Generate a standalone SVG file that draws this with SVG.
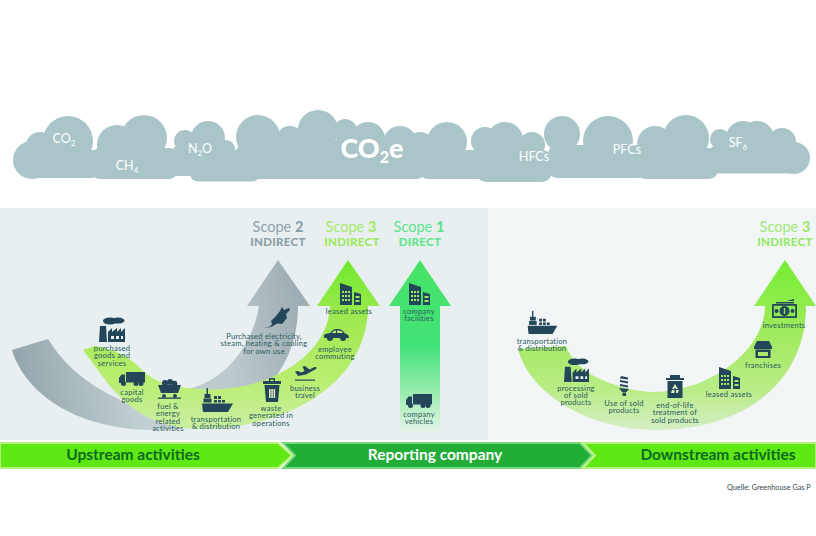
<svg xmlns="http://www.w3.org/2000/svg" width="816" height="536" viewBox="0 0 816 536">
<style>
text{font-family:Lato,"Open Sans","Liberation Sans",sans-serif}
.l{font-size:7.6px;letter-spacing:.22px;fill:#2a5a5e;text-anchor:middle}
.c{fill:#fff;font-size:12.5px;text-anchor:middle}
.s{font-size:14.5px;text-anchor:middle}
.s tspan{font-weight:900}
.d{font-size:11.5px;font-weight:900;text-anchor:middle;letter-spacing:.3px}
.b{font-size:15.5px;font-weight:700;text-anchor:middle}
.i{fill:#23465a}
.cl{fill:#a9c5c7}
</style>
<defs>
<linearGradient id="gGray" gradientUnits="userSpaceOnUse" x1="12" y1="350" x2="300" y2="300">
<stop offset="0" stop-color="#93a5ab"/><stop offset=".4" stop-color="#c3d0d3"/><stop offset=".72" stop-color="#bccacd"/><stop offset="1" stop-color="#9eadb3"/>
</linearGradient>
<linearGradient id="gUp" gradientUnits="userSpaceOnUse" x1="0" y1="260" x2="0" y2="430">
<stop offset="0" stop-color="#6fe92e"/><stop offset=".35" stop-color="#9fe950"/><stop offset=".7" stop-color="#b9ee70"/><stop offset="1" stop-color="#cbeea4"/>
</linearGradient>
<linearGradient id="gOne" gradientUnits="userSpaceOnUse" x1="0" y1="260" x2="0" y2="432">
<stop offset="0" stop-color="#46e364"/><stop offset=".5" stop-color="#43e27a"/><stop offset=".8" stop-color="#a3eeb4"/><stop offset="1" stop-color="#e6f4e8"/>
</linearGradient>
<linearGradient id="gDown" gradientUnits="userSpaceOnUse" x1="0" y1="260" x2="0" y2="430">
<stop offset="0" stop-color="#74ee32"/><stop offset=".45" stop-color="#a2ea60"/><stop offset=".75" stop-color="#b8ec84"/><stop offset="1" stop-color="#d4eec4"/>
</linearGradient>
<symbol id="factory" viewBox="0 0 26 25"><g class="i"><ellipse cx="11" cy="4" rx="7" ry="3.4"/><ellipse cx="19" cy="3.6" rx="6.5" ry="3"/><path d="M1,9H7L8,25H0Z"/><path d="M9,25V15L13,11V15L18,11V15L22,11V15L26,11V25Z"/></g><path d="M12,19h3v3h-3zM17,19h3v3h-3zM22,19h2v3h-2z" fill="#e8eff0"/></symbol>
<symbol id="truck" viewBox="0 0 26 14"><g class="i"><rect x="7" y="0" width="19" height="10.5"/><path d="M0,11V6L2.500,2.500H6V11Z"/><circle cx="4.500" cy="11.500" r="2.500"/><circle cx="17" cy="11.500" r="2.500"/><circle cx="22" cy="11.500" r="2.500"/></g></symbol>
<symbol id="cart" viewBox="0 0 23 20"><g class="i"><circle cx="7" cy="4" r="3"/><circle cx="12" cy="3" r="3"/><circle cx="16.500" cy="4.500" r="2.800"/><path d="M0,6H23L20,14H3Z"/><circle cx="6" cy="17" r="2"/><circle cx="17" cy="17" r="2"/><rect x="0" y="18.500" width="23" height="1.300"/></g></symbol>
<symbol id="ship" viewBox="0 0 31 24"><g class="i"><rect x="4.500" y="0" width="1.500" height="6"/><rect x="2.500" y="6" width="6" height="4"/><rect x="1.500" y="10.500" width="8" height="4"/><path d="M12,8h3v3h-3zM16,8h3v3h-3zM12,12h3v2.500h-3zM16,12h3v2.500h-3zM20,12h3v2.500h-3z"/><path d="M0,15.500H31L26,24H1Z"/></g></symbol>
<symbol id="trash" viewBox="0 0 18 24"><g class="i"><path d="M6,3V0H12V3H18V6H0V3ZM7.500,1.500V3H10.500V1.500Z" fill-rule="evenodd"/><path d="M1.500,7H16.500L15,24H3Z"/></g><path d="M6,11h1.500v9H6zM8.300,11h1.500v9H8.300zM10.600,11h1.500v9h-1.500z" fill="#e6f0c8"/></symbol>
<symbol id="bin" viewBox="0 0 18 23"><g class="i"><path d="M4,3V0H14V3H18V5H0V3Z"/><path d="M1.500,6H16.500V23H1.500Z"/></g><path d="M9,9L12,14H9.800L9,12.500 8,14H6ZM6,15H8.500V18H5ZM10,15H13L11.800,18H10Z" fill="#dcefc8"/></symbol>
<symbol id="plane" viewBox="0 0 22 18"><g class="i"><path d="M0,8.500L3,8 6,9.500 9.500,8 7.500,3.500 10,3 14.500,6.500 19,4.200C21,3.500 22.300,4.600 21,6L11,11.500 3,13Z"/><rect x="0" y="16.500" width="20" height="1.200"/></g></symbol>
<symbol id="car" viewBox="0 0 25 12"><g class="i"><path d="M0,6C1,4.500 4,4.500 6,4L9,1C12,-.5 16,-.5 18.500,1.500L21,4.500C23,5 25,6 25,9H0Z"/><circle cx="6" cy="9" r="3"/><circle cx="19" cy="9" r="3"/></g><path d="M9.500,2.200L7.800,4H12V1.500ZM13,1.400V4H19L17.500,2Z" fill="#c2ec80"/></symbol>
<symbol id="bld" viewBox="0 0 21 22"><path class="i" d="M0,0L12,4V22H0ZM14,9L21,11V22H14Z"/><path d="M2,8h2v2H2zM5,8h2v2H5zM8,8h2v2H8zM2,12h2v2H2zM5,12h2v2H5zM8,12h2v2H8zM2,16h2v2H2zM5,16h2v2H5zM8,16h2v2H8zM15.500,13h4v2h-4zM15.500,17h4v2h-4z" fill="#9fe860"/></symbol>
<symbol id="plug" viewBox="0 0 28 21"><path class="i" d="M0,19C3,21 8,21 10,17L9,14 14,9 18,4 20,0 22,3 27,1 28,3 24,7 25,11 20,17 15,16.500C11,20 5,22 0,19Z"/></symbol>
<symbol id="bulb" viewBox="0 0 10 20"><g class="i"><path d="M2,0L9,1.500V3.500L1,2.500ZM1,4L9,5.500V7.500L1,6ZM1,8L9,9.500V11.500L1,10Z"/><path d="M0,12L10,13 7.500,16H3Z"/><rect x="3.500" y="16.500" width="3.500" height="3.500"/></g></symbol>
<symbol id="store" viewBox="0 0 18 17"><g class="i"><path d="M3,0H15L18,6V8H0V6Z"/><path d="M1.500,8.500H16.500V17H1.500ZM4,11V15H14V11Z" fill-rule="evenodd"/></g></symbol>
<symbol id="money" viewBox="0 0 25 19"><g class="i"><path d="M11,3L22,0V2H15ZM4,3H22V4.500H4Z"/><rect x="0" y="5" width="25" height="14" rx="1"/></g><rect x="1.800" y="6.800" width="21.400" height="10.400" fill="#8fe84e"/><circle cx="12.500" cy="12" r="5" fill="#23465a"/><circle cx="4.500" cy="12" r="2" fill="#23465a"/><circle cx="20.500" cy="12" r="2" fill="#23465a"/><rect x="11.800" y="9" width="1.400" height="6" fill="#8fe84e"/></symbol>
</defs>
<rect width="816" height="536" fill="#fff"/>
<g id="clouds">
<g class="cl">
<circle cx="32" cy="160" r="19"/><circle cx="40" cy="146" r="14"/><circle cx="68" cy="141" r="25"/>
<circle cx="117" cy="145" r="20"/><circle cx="144" cy="138" r="23"/>
<circle cx="185" cy="141" r="11"/><circle cx="208" cy="138" r="17"/><circle cx="226" cy="149" r="9"/>
<circle cx="258" cy="137" r="22"/><circle cx="290" cy="140" r="14"/><circle cx="318" cy="130" r="20"/><circle cx="345" cy="131" r="12"/><circle cx="368" cy="139" r="17"/><circle cx="400" cy="143" r="17"/>
<circle cx="420" cy="146" r="14"/><circle cx="447" cy="142" r="20"/><circle cx="485" cy="141" r="14"/><circle cx="505" cy="140" r="18"/><circle cx="532" cy="145" r="13"/>
<circle cx="562" cy="134" r="18"/><circle cx="608" cy="141" r="25"/><circle cx="655" cy="144" r="18"/><circle cx="686" cy="138" r="23"/>
<circle cx="720" cy="139" r="10"/><circle cx="743" cy="138" r="17"/><circle cx="757" cy="138" r="17"/><circle cx="782" cy="142" r="14"/><circle cx="794" cy="158" r="16"/>
<rect x="28" y="150" width="70" height="28" rx="6"/>
<rect x="92" y="148" width="85" height="31" rx="8"/>
<rect x="172" y="146" width="60" height="30" rx="6"/>
<rect x="190" y="150" width="70" height="31.500" rx="8"/>
<rect x="235" y="146" width="80" height="33" rx="8"/>
<rect x="300" y="140" width="125" height="39" rx="8"/>
<rect x="420" y="150" width="70" height="29" rx="8"/>
<rect x="476" y="150" width="76" height="32" rx="10"/>
<rect x="548" y="145" width="99" height="33" rx="9"/>
<rect x="636" y="148" width="82" height="31" rx="9"/>
<rect x="710" y="146" width="85" height="27.500" rx="5"/>
</g>
<text class="c" x="64" y="143">CO<tspan font-size="8" dy="3">2</tspan></text>
<text class="c" x="127" y="170">CH<tspan font-size="8" dy="3">4</tspan></text>
<text class="c" x="200" y="153">N<tspan font-size="8" dy="3">2</tspan><tspan dy="-3">O</tspan></text>
<text x="372" y="158" fill="#fff" font-size="27" font-weight="900" text-anchor="middle">CO<tspan font-size="16" dy="5">2</tspan><tspan dy="-5">e</tspan></text>
<text class="c" x="534" y="161">HFCs</text>
<text class="c" x="627" y="154">PFCs</text>
<text class="c" x="738" y="147">SF<tspan font-size="8" dy="3">6</tspan></text>
</g>
<rect x="0" y="208" width="488" height="232" fill="#e8eff0"/>
<rect x="488" y="208" width="328" height="232" fill="#f2f5f5"/>
<g id="connectors">
<path id="arrow-scope2" fill="url(#gGray)" d="M12,350C22,385 65,428 150,430C240,430 298,380 298,306H310L278,260L247,306H259C252,350 220,385 182,390L155,414C110,398 72,378 48,339Z"/>
<path id="arrow-scope3-up" fill="url(#gUp)" d="M83,350L95,346C118,350 130,358 140,368C152,380 165,387 200,389C260,394 328,360 330,306H317L348,260L380,306H368C368,385 285,429 200,429C155,429 125,408 103,377Z"/>
<path id="arrow-scope1" fill="url(#gOne)" d="M400,432V306H389L420,260L451,306H440V432Z"/>
<path id="arrow-scope3-down" fill="url(#gDown)" d="M518,349L566,346C572,362 585,372 600,379C620,388 640,392 653,392C710,392 765,350 765,306H754L785,260L816,306H806C806,385 740,430 657,430C590,430 530,395 518,349Z"/>
</g>
<g id="scope2"><text class="s" x="278" y="232" fill="#8ba2aa">Scope <tspan>2</tspan></text><text class="d" x="278" y="246" fill="#8a9fa9">INDIRECT</text></g>
<g id="scope3"><text class="s" x="351" y="232" fill="#a4e96a">Scope <tspan>3</tspan></text><text class="d" x="352" y="246" fill="#9fe860">INDIRECT</text></g>
<g id="scope1"><text class="s" x="419" y="232" fill="#5fe48c">Scope <tspan>1</tspan></text><text class="d" x="420" y="246" fill="#5fe48c">DIRECT</text></g>
<g id="scope3b"><text class="s" x="785" y="232" fill="#9fe97a">Scope <tspan>3</tspan></text><text class="d" x="785" y="246" fill="#94e86a">INDIRECT</text></g>

<g id="n-purchased"><use href="#factory" x="99" y="317" width="26" height="25"/><text class="l" y="351"><tspan x="112">purchased</tspan><tspan x="112" dy="7.400">goods and</tspan><tspan x="112" dy="7.400">services</tspan></text></g>
<g id="n-capital"><use href="#truck" x="119" y="372" width="26" height="14"/><text class="l" y="394.500"><tspan x="132">capital</tspan><tspan x="132" dy="7.400">goods</tspan></text></g>
<g id="n-fuel"><use href="#cart" x="158" y="379" width="23" height="20"/><text class="l" y="409"><tspan x="168">fuel &amp;</tspan><tspan x="168" dy="7.400">energy</tspan><tspan x="168" dy="7.300">related</tspan><tspan x="168" dy="7.300">activities</tspan></text></g>
<g id="n-transport"><use href="#ship" x="202" y="388" width="31" height="24"/><text class="l" y="421.500"><tspan x="216">transportation</tspan><tspan x="216" dy="7.100">&amp; distribution</tspan></text></g>
<g id="n-waste"><use href="#trash" x="263" y="378" width="18" height="24"/><text class="l" y="411"><tspan x="271">waste</tspan><tspan x="271" dy="7.400">generated in</tspan><tspan x="271" dy="7.400">operations</tspan></text></g>
<g id="n-travel"><use href="#plane" x="295" y="363" width="22" height="18"/><text class="l" y="390.500"><tspan x="305">business</tspan><tspan x="305" dy="7.100">travel</tspan></text></g>
<g id="n-commute"><use href="#car" x="324" y="329" width="25" height="12"/><text class="l" y="352"><tspan x="335">employee</tspan><tspan x="335" dy="7.200">commuting</tspan></text></g>
<g id="n-leased"><use href="#bld" x="340" y="283" width="21" height="22"/><text class="l" x="349" y="313.500">leased assets</text></g>
<g id="n-electricity"><use href="#plug" x="262" y="307" width="28" height="21"/><text class="l" y="339"><tspan x="264">Purchased electricity,</tspan><tspan x="264" dy="7.400">steam, heating &amp; cooling</tspan><tspan x="264" dy="7.300">for own use</tspan></text></g>
<g id="n-facilities"><use href="#bld" x="409" y="283" width="21" height="22"/><text class="l" y="313.500"><tspan x="419">company</tspan><tspan x="419" dy="7.400">facilities</tspan></text></g>
<g id="n-vehicles"><use href="#truck" x="406" y="394" width="26" height="14"/><text class="l" y="417"><tspan x="419">company</tspan><tspan x="419" dy="7.200">vehicles</tspan></text></g>

<g id="n-d-transport"><use href="#ship" x="527" y="311" width="31" height="23"/><text class="l" y="344"><tspan x="542">transportation</tspan><tspan x="542" dy="7.400">&amp; distribution</tspan></text></g>
<g id="n-processing"><use href="#factory" x="564" y="358" width="25" height="24"/><text class="l" y="390.500"><tspan x="576">processing</tspan><tspan x="576" dy="7.400">of sold</tspan><tspan x="576" dy="7.300">products</tspan></text></g>
<g id="n-use"><use href="#bulb" x="619" y="376" width="10" height="20"/><text class="l" y="406"><tspan x="624">Use of sold</tspan><tspan x="624" dy="7.300">products</tspan></text></g>
<g id="n-eol"><use href="#bin" x="666" y="375" width="18" height="23"/><text class="l" y="408"><tspan x="675">end-of-life</tspan><tspan x="675" dy="7.300">treatment of</tspan><tspan x="675" dy="7.400">sold products</tspan></text></g>
<g id="n-d-leased"><use href="#bld" x="719" y="367" width="21" height="22"/><text class="l" x="729" y="396.500">leased assets</text></g>
<g id="n-franchises"><use href="#store" x="754" y="341" width="18" height="17"/><text class="l" x="763" y="368">franchises</text></g>
<g id="n-investments"><use href="#money" x="772" y="299" width="25" height="19"/><text class="l" x="784" y="328">investments</text></g>

<g id="bars">
<path d="M0,443H278L292,455.500L278,468H0Z" fill="#5fe813" stroke="#b8f57e" stroke-width="2"/>
<path d="M283,443H580L592,455.500L580,468H283L295,455.500Z" fill="#22ad38" stroke="#74d977" stroke-width="2"/>
<path d="M583,443H816V468H583L595,455.500Z" fill="#5fe813" stroke="#b8f57e" stroke-width="2"/>
<text class="b" x="133" y="460" fill="#0c6a22">Upstream activities</text>
<text class="b" x="435" y="460" fill="#fff">Reporting company</text>
<text class="b" x="718" y="460" fill="#0c6a22">Downstream activities</text>
</g>
<text x="727" y="490" font-size="7.300" fill="#33484c">Quelle: Greenhouse Gas P</text>
</svg>
